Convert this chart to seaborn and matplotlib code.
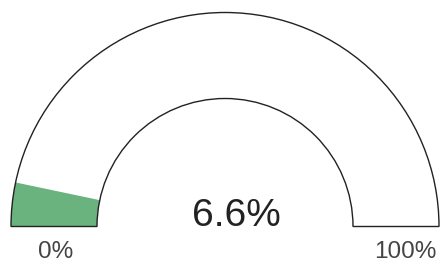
import matplotlib
matplotlib.use("Agg")
import matplotlib.pyplot as plt
from matplotlib.patches import Wedge
import seaborn as sns

value = 6.6
min_value = 0
max_value = 100
value_label = "6.6%"
tick_labels = ["0%", "100%"]

sns.set_theme(style="white")
plt.rcParams['font.family'] = ['Liberation Sans', 'DejaVu Sans']

fig = plt.figure(figsize=(4.44, 2.64), dpi=100)
ax = fig.add_axes([0, 0, 1, 1])
ax.set_xlim(-225 / 214, 219 / 214)
ax.set_ylim(-37.5 / 214, 226.5 / 214)
ax.axis("off")

r_out = 1.0
width = 1 - 128 / 214
frac = (value - min_value) / (max_value - min_value)
ang = 180 - 180 * frac

# filled part
ax.add_patch(Wedge((0, 0), r_out, ang, 180, width=width,
                   facecolor="#6ab27e", edgecolor="none"))
# outline
ax.add_patch(Wedge((0, 0), r_out, 0, 180, width=width,
                   facecolor="none", edgecolor="#222222", linewidth=1.0))

ax.text(0.051, 0.0, value_label, ha="center", va="baseline",
        fontsize=28, color="#222222")
ax.text(-0.792, -0.148, tick_labels[0], ha="center", va="baseline",
        fontsize=17.5, color="#444444")
ax.text(0.841, -0.148, tick_labels[1], ha="center", va="baseline",
        fontsize=17.5, color="#444444")

fig.savefig("out.png", dpi=100)
